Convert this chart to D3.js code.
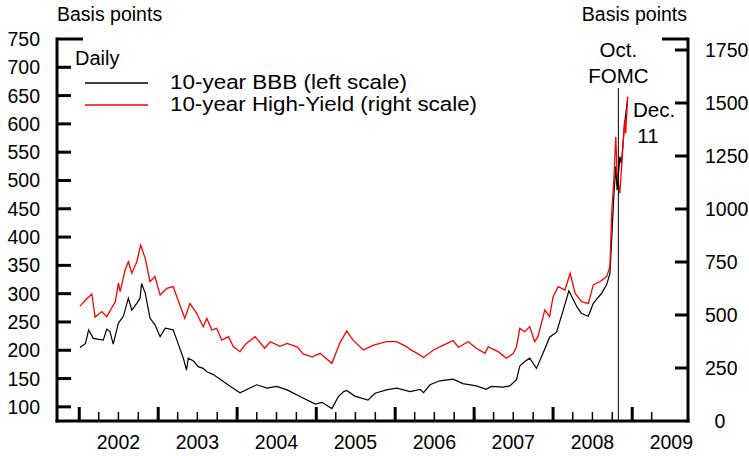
<!DOCTYPE html>
<html>
<head>
<meta charset="utf-8">
<script src="https://cdn.jsdelivr.net/npm/d3@7"></script>
<style>
  body { margin: 0; background: #fff; }
  svg { display: block; font-family: "Liberation Sans", Arial, Helvetica, sans-serif; }
</style>
</head>
<body>
<svg id="chart"></svg>
<script>
// BBB and high-yield spreads, daily

// 10-year BBB spread, basis points (left scale)
const bbbSeries = [
    ['2002-01-04', 205], ['2002-01-30', 212], ['2002-02-13', 236], ['2002-03-07', 221],
    ['2002-04-22', 218], ['2002-05-08', 237], ['2002-05-23', 233], ['2002-06-07', 211],
    ['2002-07-01', 248], ['2002-07-24', 260], ['2002-08-16', 292], ['2002-09-01', 271],
    ['2002-09-24', 283], ['2002-10-09', 292], ['2002-10-16', 318], ['2002-11-02', 301],
    ['2002-11-24', 257], ['2002-12-17', 245], ['2003-01-10', 224], ['2003-02-03', 239],
    ['2003-03-11', 236], ['2003-04-05', 210], ['2003-04-27', 186], ['2003-05-12', 165],
    ['2003-05-20', 186], ['2003-06-13', 181], ['2003-07-05', 171], ['2003-07-28', 168],
    ['2003-08-14', 162], ['2003-09-13', 157], ['2003-10-29', 145], ['2003-11-28', 137],
    ['2004-01-14', 125], ['2004-02-27', 133], ['2004-04-01', 139], ['2004-05-18', 133],
    ['2004-07-02', 136], ['2004-08-19', 130], ['2004-10-20', 118], ['2004-12-28', 105],
    ['2005-01-27', 108], ['2005-03-14', 97], ['2005-04-13', 118], ['2005-05-08', 127],
    ['2005-05-22', 129], ['2005-06-28', 119], ['2005-08-28', 112], ['2005-09-30', 124],
    ['2005-11-21', 130], ['2006-01-08', 133], ['2006-03-11', 127], ['2006-04-26', 131],
    ['2006-05-12', 125], ['2006-06-11', 139], ['2006-07-26', 146], ['2006-09-26', 149],
    ['2006-11-10', 141], ['2007-01-11', 137], ['2007-02-26', 131], ['2007-03-21', 136],
    ['2007-05-14', 135], ['2007-06-15', 137], ['2007-07-16', 148], ['2007-07-31', 172],
    ['2007-08-23', 180], ['2007-09-15', 186], ['2007-10-16', 168], ['2007-11-16', 195],
    ['2007-12-16', 223], ['2008-01-17', 232], ['2008-02-17', 271], ['2008-03-14', 305],
    ['2008-04-20', 277], ['2008-05-12', 265], ['2008-06-12', 260], ['2008-07-05', 283],
    ['2008-08-13', 301], ['2008-09-05', 316], ['2008-09-20', 336], ['2008-09-28', 395],
    ['2008-10-08', 471], ['2008-10-17', 525], ['2008-10-23', 483], ['2008-11-05', 542],
    ['2008-11-12', 530], ['2008-11-27', 601], ['2008-12-11', 645]
];

// 10-year high-yield spread, basis points (right scale)
const hySeries = [
    ['2002-01-04', 542], ['2002-01-30', 571], ['2002-02-28', 599], ['2002-03-15', 489],
    ['2002-04-15', 516], ['2002-05-08', 492], ['2002-06-17', 563], ['2002-07-01', 650],
    ['2002-07-09', 610], ['2002-08-01', 712], ['2002-08-16', 751], ['2002-09-01', 697],
    ['2002-09-24', 751], ['2002-10-12', 830], ['2002-11-02', 767], ['2002-11-24', 657],
    ['2002-12-17', 681], ['2003-01-10', 594], ['2003-02-10', 626], ['2003-03-11', 634],
    ['2003-04-11', 547], ['2003-05-04', 484], ['2003-05-28', 555], ['2003-06-28', 508],
    ['2003-07-28', 445], ['2003-08-14', 484], ['2003-09-06', 429], ['2003-09-28', 437],
    ['2003-10-22', 382], ['2003-11-22', 398], ['2003-12-14', 351], ['2004-01-14', 327],
    ['2004-02-09', 362], ['2004-03-24', 398], ['2004-05-07', 343], ['2004-06-02', 374],
    ['2004-07-17', 352], ['2004-08-19', 366], ['2004-10-04', 350], ['2004-11-03', 315],
    ['2004-12-13', 303], ['2005-01-19', 319], ['2005-03-14', 272], ['2005-04-21', 370],
    ['2005-05-22', 425], ['2005-06-21', 380], ['2005-08-07', 335], ['2005-09-23', 358],
    ['2005-11-21', 374], ['2006-01-08', 374], ['2006-02-24', 350], ['2006-03-11', 338],
    ['2006-04-26', 311], ['2006-05-12', 300], ['2006-06-27', 335], ['2006-08-12', 358],
    ['2006-09-26', 379], ['2006-10-20', 348], ['2006-12-05', 374], ['2007-01-11', 343],
    ['2007-02-20', 319], ['2007-03-07', 350], ['2007-04-22', 327], ['2007-05-30', 296],
    ['2007-07-01', 319], ['2007-07-16', 350], ['2007-07-31', 437], ['2007-08-23', 421],
    ['2007-09-15', 445], ['2007-10-08', 374], ['2007-10-23', 398], ['2007-11-24', 524],
    ['2007-12-16', 492], ['2008-01-01', 586], ['2008-01-25', 634], ['2008-02-25', 618],
    ['2008-03-20', 697], ['2008-04-12', 602], ['2008-05-12', 563], ['2008-06-12', 555],
    ['2008-07-05', 642], ['2008-08-04', 657], ['2008-09-05', 681], ['2008-09-20', 728],
    ['2008-09-28', 980], ['2008-10-08', 1137], ['2008-10-17', 1341], ['2008-10-23', 1168],
    ['2008-11-05', 1074], ['2008-11-17', 1263], ['2008-11-27', 1420], ['2008-12-02', 1357],
    ['2008-12-11', 1530]
];

const leftTicks = [100, 150, 200, 250, 300, 350, 400, 450, 500, 550, 600, 650, 700, 750];
const rightTicks = [0, 250, 500, 750, 1000, 1250, 1500, 1750];
const yearLabels = [2002, 2003, 2004, 2005, 2006, 2007, 2008, 2009];
const fomcDate = '2008-10-29';

(function () {
    const WIDTH = 749;
    const HEIGHT = 456;
    const FONT_TICK = 19.5;
    const PLOT = { top: 39, bottom: 421, left: 57, right: 688 };

    const parse = d3.timeParse('%Y-%m-%d');

    const svg = d3.select('#chart')
        .attr('width', WIDTH)
        .attr('height', HEIGHT);

    const x = d3.scaleTime()
        .domain([new Date(2001, 8, 20), new Date(2009, 8, 16)])
        .range([PLOT.left, PLOT.right]);

    const yLeft = d3.scaleLinear().domain([75, 750]).range([PLOT.bottom, PLOT.top]);
    const yRight = d3.scaleLinear().domain([0, 1750]).range([PLOT.bottom, 50]);

    // frame: left, right and bottom axis lines
    const frame = svg.append('g').attr('stroke', '#000').attr('stroke-width', 3).attr('fill', 'none');
    frame.append('line').attr('x1', PLOT.left).attr('x2', PLOT.left).attr('y1', PLOT.top - 1.5).attr('y2', PLOT.bottom + 1.5);
    frame.append('line').attr('x1', PLOT.right).attr('x2', PLOT.right).attr('y1', PLOT.top - 1.5).attr('y2', PLOT.bottom + 1.5);
    frame.append('line').attr('x1', PLOT.left - 1.5).attr('x2', PLOT.right + 1.5).attr('y1', PLOT.bottom).attr('y2', PLOT.bottom);
    // short top stubs
    frame.append('line').attr('x1', PLOT.left).attr('x2', PLOT.left + 26).attr('y1', PLOT.top).attr('y2', PLOT.top);
    frame.append('line').attr('x1', PLOT.right - 26).attr('x2', PLOT.right).attr('y1', PLOT.top).attr('y2', PLOT.top);

    // left ticks + labels
    frame.append('g')
        .selectAll('line')
        .data(leftTicks.filter(d => d < 750))
        .join('line')
        .attr('x1', PLOT.left).attr('x2', PLOT.left + 14)
        .attr('y1', d => yLeft(d)).attr('y2', d => yLeft(d));

    svg.append('g')
        .selectAll('text')
        .data(leftTicks)
        .join('text')
        .attr('x', 40)
        .attr('y', d => yLeft(d) + 7)
        .attr('text-anchor', 'end')
        .attr('font-size', FONT_TICK)
        .text(d => d);

    // right ticks + labels
    frame.append('g')
        .selectAll('line')
        .data(rightTicks.filter(d => d > 0))
        .join('line')
        .attr('x1', PLOT.right - 13).attr('x2', PLOT.right)
        .attr('y1', d => yRight(d)).attr('y2', d => yRight(d));

    svg.append('g')
        .selectAll('text')
        .data(rightTicks)
        .join('text')
        .attr('x', d => d === 0 ? 720 : 705)
        .attr('y', d => yRight(d) + 7)
        .attr('text-anchor', d => d === 0 ? 'middle' : 'start')
        .attr('font-size', FONT_TICK)
        .text(d => d);

    // x ticks: years (major) and quarters (minor)
    const majors = yearLabels.map(y => new Date(y, 0, 1));
    const minors = d3.timeMonth.range(new Date(2002, 0, 1), new Date(2009, 6, 1), 3)
        .filter(d => d.getMonth() !== 0);

    svg.append('g')
        .attr('stroke', '#000')
        .attr('stroke-width', 1.5)
        .selectAll('line')
        .data(minors)
        .join('line')
        .attr('x1', d => x(d)).attr('x2', d => x(d))
        .attr('y1', PLOT.bottom).attr('y2', PLOT.bottom - 9);

    svg.append('g')
        .attr('stroke', '#000')
        .attr('stroke-width', 3)
        .selectAll('line')
        .data(majors)
        .join('line')
        .attr('x1', d => x(d)).attr('x2', d => x(d))
        .attr('y1', PLOT.bottom).attr('y2', PLOT.bottom - 14);

    svg.append('g')
        .selectAll('text')
        .data(yearLabels)
        .join('text')
        .attr('x', d => x(new Date(d, 6, 1)))
        .attr('y', 449)
        .attr('text-anchor', 'middle')
        .attr('font-size', FONT_TICK)
        .text(d => d);

    // axis titles
    svg.append('text').attr('x', 57).attr('y', 21).attr('font-size', FONT_TICK).text('Basis points');
    svg.append('text').attr('x', 687).attr('y', 21).attr('text-anchor', 'end').attr('font-size', FONT_TICK).text('Basis points');

    // series
    const bbbLine = d3.line()
        .x(d => x(parse(d[0])))
        .y(d => yLeft(d[1]));

    const hyLine = d3.line()
        .x(d => x(parse(d[0])))
        .y(d => yRight(d[1]));

    svg.append('path')
        .datum(bbbSeries)
        .attr('d', bbbLine)
        .attr('fill', 'none')
        .attr('stroke', '#000')
        .attr('stroke-width', 1.2);

    svg.append('path')
        .datum(hySeries)
        .attr('d', hyLine)
        .attr('fill', 'none')
        .attr('stroke', '#ff0000')
        .attr('stroke-width', 1.3);

    // October FOMC marker
    const fx = x(parse(fomcDate));
    svg.append('line')
        .attr('x1', fx).attr('x2', fx)
        .attr('y1', 88).attr('y2', PLOT.bottom)
        .attr('stroke', '#000')
        .attr('stroke-width', 1);

    svg.append('text').attr('x', fx).attr('y', 57).attr('text-anchor', 'middle').attr('font-size', 20.5).text('Oct.');
    svg.append('text').attr('x', fx).attr('y', 83).attr('text-anchor', 'middle').attr('font-size', 20.5).text('FOMC');
    svg.append('text').attr('x', 654).attr('y', 117).attr('text-anchor', 'middle').attr('font-size', 20.5).text('Dec.');
    svg.append('text').attr('x', 648).attr('y', 143).attr('text-anchor', 'middle').attr('font-size', 20.5).text('11');

    // legend
    svg.append('text').attr('x', 75).attr('y', 65).attr('font-size', 20).text('Daily');
    svg.append('line').attr('x1', 85).attr('x2', 148).attr('y1', 83).attr('y2', 83)
        .attr('stroke', '#000').attr('stroke-width', 1.3);
    svg.append('line').attr('x1', 85).attr('x2', 148).attr('y1', 105).attr('y2', 105)
        .attr('stroke', '#ff0000').attr('stroke-width', 1.3);
    svg.append('text').attr('x', 170).attr('y', 89).attr('font-size', 20.5)
        .attr('textLength', 237).attr('lengthAdjust', 'spacingAndGlyphs')
        .text('10-year BBB (left scale)');
    svg.append('text').attr('x', 170).attr('y', 110.5).attr('font-size', 20.5)
        .attr('textLength', 307).attr('lengthAdjust', 'spacingAndGlyphs')
        .text('10-year High-Yield (right scale)');
})();
</script>
</body>
</html>
